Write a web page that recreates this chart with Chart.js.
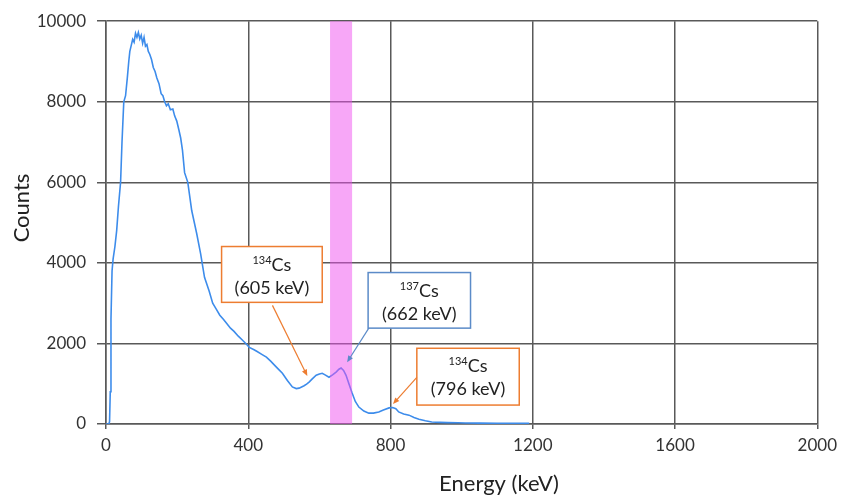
<!DOCTYPE html>
<html>
<head>
<meta charset="utf-8">
<script src="https://cdn.jsdelivr.net/npm/chart.js@4.4.1/dist/chart.umd.min.js"></script>
<style>
  html, body { margin: 0; padding: 0; background: #fff; }
  #wrap { width: 843px; height: 499px; position: relative; }
</style>
</head>
<body>
<div id="wrap"><canvas id="spectrum"></canvas></div>
<script>
// Gamma spectrum (keV, counts)
const energyKeV = [0, 8, 10, 12, 14, 17, 20, 25, 30, 35, 41, 45, 50, 55, 60, 64, 67, 71, 75, 79,
  83, 87, 91, 95, 99, 103, 107, 111, 115, 119, 123, 128, 133, 138, 143, 149, 155, 160, 165, 170,
  175, 181, 188, 193, 199, 205, 210, 215, 221, 230, 241, 255, 266, 277, 290, 300, 310, 320, 330, 339,
  350, 360, 372, 384, 395, 403, 415, 425, 438, 451, 463, 475, 486, 496, 510, 524, 535, 543, 550, 557,
  564, 571, 580, 591, 600, 608, 616, 627, 637, 647, 655, 661, 668, 675, 683, 692, 701, 711, 725, 739,
  752, 767, 780, 796, 806, 815, 823, 837, 852, 866, 880, 898, 916, 940, 960, 990, 1010, 1050, 1100, 1150, 1190];
const counts = [0, 0, 60, 800, 2600, 3800, 4100, 4400, 4800, 5400, 6000, 7000, 8000, 8150, 8600, 9000, 9250, 9400, 9550, 9480,
  9700, 9600, 9720, 9560, 9650, 9450, 9600, 9380, 9420, 9250, 9180, 9050, 8850, 8750, 8590, 8450, 8200, 8150, 8000, 7900,
  7950, 7800, 7820, 7650, 7520, 7300, 7100, 6800, 6240, 6000, 5300, 4730, 4230, 3640, 3300, 3000, 2850, 2700, 2600, 2500,
  2380, 2300, 2180, 2080, 1980, 1900, 1850, 1800, 1730, 1660, 1560, 1450, 1350, 1260, 1080, 920, 880, 890, 920, 950,
  990, 1040, 1120, 1210, 1240, 1260, 1220, 1160, 1220, 1290, 1360, 1390, 1330, 1210, 1000, 770, 560, 420, 320, 270,
  270, 300, 350, 400, 410, 380, 300, 250, 220, 160, 120, 80, 50, 40, 35, 30, 25, 22, 20, 18, 15];

const xTicks = [0, 400, 800, 1200, 1600, 2000];
const yTicks = [0, 2000, 4000, 6000, 8000, 10000];

// 137Cs window (keV)
const bandRange = [630, 692];

// callout boxes: [E left, E right, counts top, counts bottom], arrow from -> to (data coords)
const callouts = [
  { iso: "134", name: "Cs", label: "(605 keV)", color: "#ED7D31",
    box: [325, 608, 4406, 3020], from: [468, 2945], to: [566, 1190] },
  { iso: "137", name: "Cs", label: "(662 keV)", color: "#5B8BC8",
    box: [737, 1025, 3760, 2380], from: [739, 2380], to: [678, 1535] },
  { iso: "134", name: "Cs", label: "(796 keV)", color: "#ED7D31",
    box: [874, 1162, 1880, 470], from: [874, 1160], to: [807, 495] },
];

const FONT = "Lato, 'Open Sans', sans-serif";
const GRID = "#595959";

const bandPlugin = {
  id: "band",
  afterDatasetsDraw(chart) {
    const { ctx, chartArea, scales } = chart;
    const x0 = scales.x.getPixelForValue(bandRange[0]);
    const x1 = scales.x.getPixelForValue(bandRange[1]);
    ctx.save();
    ctx.fillStyle = "rgba(240, 80, 240, 0.5)";
    ctx.fillRect(x0, chartArea.top, x1 - x0, chartArea.bottom - chartArea.top);
    ctx.restore();
  }
};

function arrow(ctx, x0, y0, x1, y1, color) {
  const ang = Math.atan2(y1 - y0, x1 - x0);
  const head = 7;
  ctx.strokeStyle = color;
  ctx.fillStyle = color;
  ctx.lineWidth = 1.2;
  ctx.beginPath();
  ctx.moveTo(x0, y0);
  ctx.lineTo(x1 - Math.cos(ang) * head * 0.8, y1 - Math.sin(ang) * head * 0.8);
  ctx.stroke();
  ctx.beginPath();
  ctx.moveTo(x1, y1);
  ctx.lineTo(x1 - head * Math.cos(ang - 0.4), y1 - head * Math.sin(ang - 0.4));
  ctx.lineTo(x1 - head * Math.cos(ang + 0.4), y1 - head * Math.sin(ang + 0.4));
  ctx.closePath();
  ctx.fill();
}

const calloutPlugin = {
  id: "callouts",
  afterDraw(chart) {
    const { ctx, scales } = chart;
    const X = (v) => scales.x.getPixelForValue(v);
    const Y = (v) => scales.y.getPixelForValue(v);
    ctx.save();
    for (const c of callouts) {
      const l = X(c.box[0]), r = X(c.box[1]), t = Y(c.box[2]), b = Y(c.box[3]);
      ctx.fillStyle = "#fff";
      ctx.fillRect(l, t, r - l, b - t);
      ctx.strokeStyle = c.color;
      ctx.lineWidth = 1.5;
      ctx.strokeRect(l, t, r - l, b - t);
      arrow(ctx, X(c.from[0]), Y(c.from[1]), X(c.to[0]), Y(c.to[1]), c.color);

      const cx = (l + r) / 2;
      ctx.fillStyle = "#222";
      ctx.textBaseline = "alphabetic";
      // first line: superscript isotope number + element
      ctx.font = `11px ${FONT}`;
      const wIso = ctx.measureText(c.iso).width;
      ctx.font = `18px ${FONT}`;
      const wName = ctx.measureText(c.name).width;
      const sx = cx - (wIso + wName) / 2;
      ctx.textAlign = "left";
      ctx.font = `11px ${FONT}`;
      ctx.fillText(c.iso, sx, t + 17);
      ctx.font = `18px ${FONT}`;
      ctx.fillText(c.name, sx + wIso, t + 24);
      ctx.textAlign = "center";
      ctx.fillText(c.label, cx, t + 47);
    }
    ctx.restore();
  }
};

const axisTitlePlugin = {
  id: "axisTitles",
  afterDraw(chart) {
    const { ctx } = chart;
    ctx.save();
    ctx.fillStyle = "#222";
    ctx.font = `22px ${FONT}`;
    ctx.textAlign = "center";
    ctx.textBaseline = "middle";
    ctx.fillText("Energy (keV)", 499, 484);
    ctx.translate(22, 208);
    ctx.rotate(-Math.PI / 2);
    ctx.fillText("Counts", 0, 0);
    ctx.restore();
  }
};

new Chart(document.getElementById("spectrum"), {
  type: "line",
  data: {
    datasets: [{
      label: "Spectrum",
      data: energyKeV.map((e, i) => ({ x: e, y: counts[i] })),
      borderColor: "#3D8CEB",
      borderWidth: 1.6,
      pointRadius: 0,
      tension: 0,
      fill: false,
    }],
  },
  options: {
    responsive: true,
    maintainAspectRatio: false,
    animation: false,
    layout: { padding: { left: 0, right: 23, top: 20, bottom: 0 } },
    plugins: { legend: { display: false }, tooltip: { enabled: false } },
    scales: {
      x: {
        type: "linear",
        min: 0, max: 2000,
        afterBuildTicks: (s) => { s.ticks = xTicks.map(v => ({ value: v })); },
        afterFit: (s) => { s.height = 75; },
        grid: { color: GRID, lineWidth: 1.5, tickLength: 5 },
        border: { color: GRID, width: 1.5 },
        ticks: { color: "#333", font: { family: FONT, size: 17 }, padding: 6, maxRotation: 0,
          callback: (v) => String(v) },
      },
      y: {
        min: 0, max: 10000,
        afterBuildTicks: (s) => { s.ticks = yTicks.map(v => ({ value: v })); },
        afterFit: (s) => { s.width = 106; },
        grid: { color: GRID, lineWidth: 1.5, tickLength: 9 },
        border: { color: GRID, width: 1.5 },
        ticks: { color: "#333", font: { family: FONT, size: 17 }, padding: 11,
          callback: (v) => String(v) },
      },
    },
  },
  plugins: [bandPlugin, calloutPlugin, axisTitlePlugin],
});
</script>
</body>
</html>
